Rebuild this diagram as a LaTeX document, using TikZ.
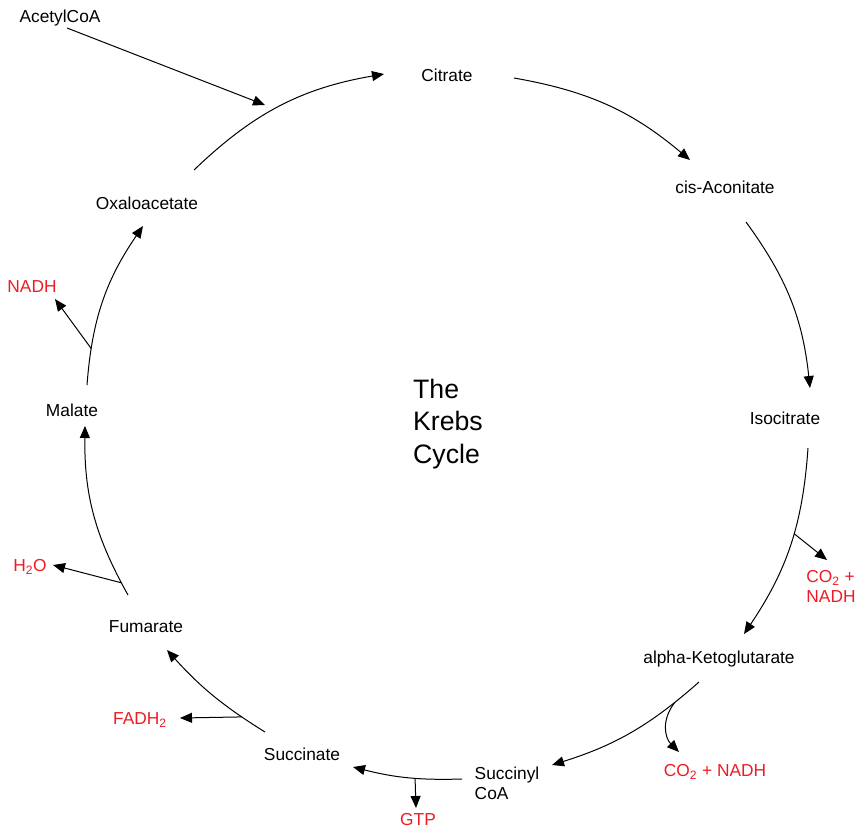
\documentclass[tikz,border=0pt]{standalone}
\usepackage{fontspec}
\setmainfont{Liberation Sans}
\usetikzlibrary{arrows.meta}
\definecolor{krebsred}{RGB}{237,28,36}
\begin{document}
\begin{tikzpicture}[x=0.75pt,y=-0.75pt,
  lbl/.style={font=\fontsize{13}{15}\selectfont, inner sep=0pt, text=black},
  prod/.style={lbl, text=krebsred},
  arr/.style={draw=black, line width=0.75pt, -{Triangle[length=9pt,width=7.5pt]}},
  ln/.style={draw=black, line width=0.75pt}]
\useasboundingbox (0,0) rectangle (859,829);
% metabolites
\node[lbl] (acetyl) at (60,18) {AcetylCoA};
\node[lbl] (cit) at (447,75) {Citrate};
\node[lbl] (cis) at (725,187) {cis-Aconitate};
\node[lbl] (iso) at (785,418) {Isocitrate};
\node[lbl] (akg) at (719,659) {alpha-Ketoglutarate};
\node[lbl, align=left] (scoa) at (507,783) {Succinyl\\CoA};
\node[lbl] (succ) at (302,754) {Succinate};
\node[lbl] (fum) at (146,627) {Fumarate};
\node[lbl] (mal) at (72,410) {Malate};
\node[lbl] (oxa) at (147,203) {Oxaloacetate};
\node[font=\fontsize{20}{24.5}\selectfont, align=left, inner sep=0pt] (title) at (448,424) {The\\Krebs\\Cycle};
% products
\node[prod] (nadh1) at (32,287) {NADH};
\node[prod] (h2o) at (30,567) {H\textsubscript{2}O};
\node[prod] (fadh) at (140,720) {FADH\textsubscript{2}};
\node[prod] (gtp) at (418,820) {GTP};
\node[prod] (co2b) at (715,772) {CO\textsubscript{2} + NADH};
\node[prod, align=left] (co2a) at (831,586) {CO\textsubscript{2} +\\NADH};
% acetyl CoA entry
\coordinate (entry) at (265,105);
\draw[arr] ([shift={(7,10)}]acetyl.center) -- (entry);
% cycle
\draw[arr] ([shift={(47,-33)}]oxa.center) to[bend left=17] ([shift={(-63,-1)}]cit.center);
\draw[arr] ([shift={(67,3)}]cit.center) to[bend left=15] ([shift={(-35,-27)}]cis.center);
\draw[arr] ([shift={(21,35)}]cis.center) to[bend left=15] ([shift={(25,-30)}]iso.center);
\draw[arr] ([shift={(23,30)}]iso.center) to[bend left=15] coordinate[pos=0.43] (b1) ([shift={(25,-25)}]akg.center);
\draw[arr] ([shift={(-20,23)}]akg.center) to[bend left=12] coordinate[pos=0.17] (b2) ([shift={(45,-18)}]scoa.center);
\draw[arr] ([shift={(-45,-4)}]scoa.center) to[bend left=8] coordinate[pos=0.42] (b3) ([shift={(51,13)}]succ.center);
\draw[arr] ([shift={(-37,-22)}]succ.center) to[bend left=8] coordinate[pos=0.2] (b4) ([shift={(21,23)}]fum.center);
\draw[arr] ([shift={(-18,-32)}]fum.center) to[bend left=15] coordinate[pos=0.07] (b5) ([shift={(13,16)}]mal.center);
\draw[arr] ([shift={(15,-25)}]mal.center) to[bend left=15] coordinate[pos=0.2] (b6) ([shift={(-4,23)}]oxa.center);
% side products
\draw[arr] (b1) -- ([shift={(-4,-26)}]co2a.center);
\draw[arr] (b2) .. controls +(-14,18) and +(-14,-14) .. ([shift={(-36,-20)}]co2b.center);
\draw[arr] (b3) -- ([shift={(-2,-12)}]gtp.center);
\draw[arr] (b4) -- ([shift={(40,-2)}]fadh.center);
\draw[arr] (b5) -- ([shift={(23,-2)}]h2o.center);
\draw[arr] (b6) -- ([shift={(23,12)}]nadh1.center);
\end{tikzpicture}
\end{document}
